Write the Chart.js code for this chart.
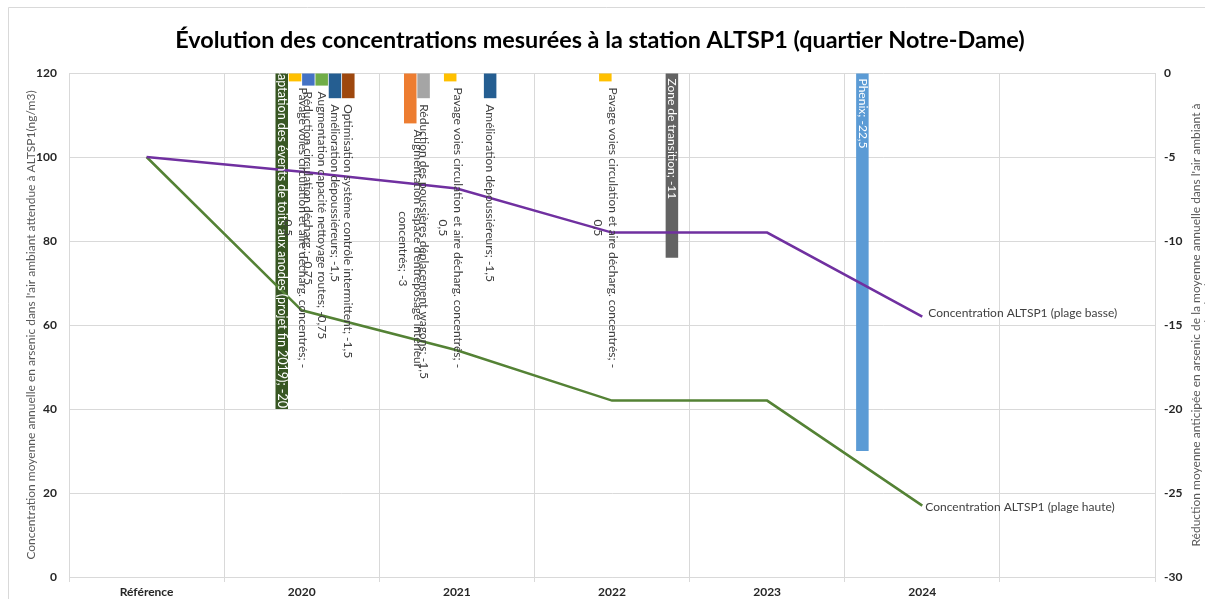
<!DOCTYPE html>
<html><head><meta charset="utf-8">
<script src="https://cdn.jsdelivr.net/npm/chart.js@4"></script>
<style>html,body{margin:0;padding:0;background:#fff}#wrap{width:1205px;height:599px;position:relative}</style>
</head><body><div id="wrap"><canvas id="c" width="1205" height="599"></canvas></div>
<script>
// ---------- DATA ----------
const categories = ['Référence', '2020', '2021', '2022', '2023', '2024', ''];
const concBasse = [100, 96.5, 92.5, 82, 82, 62, null];
const concHaute = [100, 63.5, 54, 42, 42, 17, null];
const leftTicks = [0, 20, 40, 60, 80, 100, 120];
const rightTicks = [0, -5, -10, -15, -20, -25, -30];

const phenix        = [null, null, null, null, null, -22.5, null];
const entreposage   = [null, null, -3, null, null, null, null];
const wagons        = [null, null, -1.5, null, null, null, null];
const captation     = [null, -20, null, null, null, null, null];
const pavage        = [null, -0.5, -0.5, -0.5, null, null, null];
const circulation   = [null, -0.75, null, null, null, null, null];
const nettoyage     = [null, -0.75, null, null, null, null, null];
const depoussieurs  = [null, -1.5, -1.5, null, null, null, null];
const optimisation  = [null, -1.5, null, null, null, null, null];
const transition    = [null, null, null, -11, null, null, null];

const seriesNames = [
  'Phenix',
  "Augmentation espace d'entreposage intérieur concentrés",
  'Réduction des poussières déplacement wagons',
  'Captation des évents de toits aux anodes (projet fin 2019)',
  'Pavage voies circulation et aire décharg. concentrés',
  'Réduction circulation décharg.',
  'Augmentation capacité nettoyage routes',
  'Amélioration dépoussiéreurs',
  'Optimisation système contrôle intermittent',
  'Zone de transition'
];
const seriesValues = [phenix, entreposage, wagons, captation, pavage, circulation, nettoyage, depoussieurs, optimisation, transition];
const lineNames = ['Concentration ALTSP1 (plage basse)', 'Concentration ALTSP1 (plage haute)'];
const titleText = 'Évolution des concentrations mesurées à la station ALTSP1 (quartier Notre-Dame)';
const leftTitle = "Concentration moyenne annuelle en arsenic dans l'air ambiant attendue à ALTSP1(ng/m3)";
const rightTitle = ["Réduction moyenne anticipée en arsenic de la moyenne annuelle dans l'air ambiant à", 'ALTSP1 (ng/m3)'];

// ---------- STYLE ----------
const seriesColors = ['#5B9BD5', '#ED7D31', '#A5A5A5', '#385723', '#FFC000', '#4472C4', '#70AD47', '#255E91', '#9E480E', '#636363'];
const labelMode = ['inBase', 'outEnd', 'outEnd', 'inEnd', 'outEnd', 'outEnd', 'outEnd', 'outEnd', 'outEnd', 'inBase'];
const wrapAfter = [null, 'intérieur ', null, null, 'concentrés; -', null, null, null, null, null];
const FONT = 'Lato, "Liberation Sans", sans-serif';

function fmt(v) { return String(v).replace('.', ','); }

const datasets = [];
datasets.push({ type: 'line', label: lineNames[0], data: concBasse, yAxisID: 'y', borderColor: '#7030A0', backgroundColor: '#7030A0', borderWidth: 2.5, pointRadius: 0, tension: 0, order: 0 });
datasets.push({ type: 'line', label: lineNames[1], data: concHaute, yAxisID: 'y', borderColor: '#548235', backgroundColor: '#548235', borderWidth: 2.5, pointRadius: 0, tension: 0, order: 0 });
seriesValues.forEach((vals, i) => {
  datasets.push({ type: 'bar', label: seriesNames[i], data: vals, yAxisID: 'y2', backgroundColor: seriesColors[i], borderWidth: 0, categoryPercentage: 0.858, barPercentage: 0.94, order: 1, _s: i });
});

const decor = {
  id: 'decor',
  beforeDraw(chart) {
    const ctx = chart.ctx;
    ctx.save();
    ctx.fillStyle = '#fff';
    ctx.fillRect(0, 0, chart.width, chart.height);
    ctx.strokeStyle = '#d9d9d9';
    ctx.lineWidth = 1;
    ctx.beginPath();
    ctx.moveTo(8.5, 599); ctx.lineTo(8.5, 7.5); ctx.lineTo(1205, 7.5);
    ctx.stroke();
    // title
    ctx.fillStyle = '#000';
    ctx.font = 'bold 23.4px ' + FONT;
    ctx.textAlign = 'center';
    ctx.textBaseline = 'middle';
    ctx.fillText(titleText, 600, 40);
    // axis titles
    const a = chart.chartArea;
    const cy = (a.top + a.bottom) / 2;
    ctx.fillStyle = '#595959';
    ctx.font = '12px ' + FONT;
    ctx.save();
    ctx.translate(31, cy);
    ctx.rotate(-Math.PI / 2);
    ctx.fillText(leftTitle, 0, 0);
    ctx.restore();
    ctx.save();
    ctx.translate(1196, cy);
    ctx.rotate(-Math.PI / 2);
    ctx.fillText(rightTitle[0], 0, 0);
    ctx.fillText(rightTitle[1], 0, 13);
    ctx.restore();
    ctx.restore();
  },
  afterDatasetsDraw(chart) {
    const ctx = chart.ctx;
    const a = chart.chartArea;
    ctx.save();
    ctx.beginPath();
    ctx.rect(a.left, a.top, a.right - a.left, a.bottom - a.top);
    ctx.clip();
    ctx.textBaseline = 'middle';
    ctx.textAlign = 'center';
    const lh = 15;
    chart.data.datasets.forEach((ds, di) => {
      if (ds.type !== 'bar') return;
      const s = ds._s;
      const meta = chart.getDatasetMeta(di);
      const mode = labelMode[s];
      ctx.font = (mode === 'inEnd' ? '12.5px ' : '12px ') + FONT;
      ds.data.forEach((v, j) => {
        if (v === null) return;
        const el = meta.data[j];
        const full = seriesNames[s] + '; ' + fmt(v);
        let lines = [full];
        if (wrapAfter[s]) {
          const k = full.indexOf(wrapAfter[s]);
          if (k >= 0) {
            const cut = k + wrapAfter[s].length;
            lines = [full.slice(0, cut).trim(), full.slice(cut).trim()];
          }
        }
        const maxW = Math.max(...lines.map(l => ctx.measureText(l).width));
        const base = el.base, end = el.y;
        let start;
        if (mode === 'outEnd') { start = end + 6; ctx.fillStyle = '#404040'; }
        else if (mode === 'inBase') { start = base + 5; ctx.fillStyle = '#ffffff'; }
        else { start = end - 1 - maxW; ctx.fillStyle = '#ffffff'; }
        ctx.save();
        ctx.translate(el.x, start + maxW / 2);
        ctx.rotate(Math.PI / 2);
        const n = lines.length;
        lines.forEach((l, k) => {
          ctx.fillText(l, 0, (k - (n - 1) / 2) * lh);
        });
        ctx.restore();
      });
    });
    ctx.restore();
    // line end labels
    ctx.save();
    ctx.font = '12px ' + FONT;
    ctx.fillStyle = '#404040';
    ctx.textAlign = 'left';
    ctx.textBaseline = 'middle';
    [0, 1].forEach((di) => {
      const meta = chart.getDatasetMeta(di);
      const data = chart.data.datasets[di].data;
      let last = 0;
      data.forEach((v, j) => { if (v !== null) last = j; });
      const p = meta.data[last];
      ctx.fillText(lineNames[di], p.x + (di === 0 ? 6 : 3), p.y + (di === 0 ? -3 : 2));
    });
    ctx.restore();
  }
};

new Chart(document.getElementById('c'), {
  data: { labels: categories, datasets },
  options: {
    responsive: false,
    animation: false,
    devicePixelRatio: 1,
    layout: { padding: { top: 73, left: 0, right: 0, bottom: 0 } },
    plugins: { legend: { display: false }, tooltip: { enabled: false }, title: { display: false } },
    scales: {
      x: {
        offset: true,
        grid: { color: '#d9d9d9', offset: true, tickLength: 5, drawTicks: true, tickColor: '#d9d9d9' },
        border: { color: '#d9d9d9' },
        ticks: { color: '#262626', font: { family: FONT, size: 12, weight: 'bold' }, padding: 3, maxRotation: 0, autoSkip: false },
        afterFit(s) { s.height = 22; }
      },
      y: {
        position: 'left',
        min: 0, max: 120,
        afterBuildTicks(s) { s.ticks = leftTicks.map(v => ({ value: v })); },
        grid: { color: '#d9d9d9', drawTicks: false },
        border: { color: '#d9d9d9' },
        ticks: { color: '#262626', font: { family: FONT, size: 12, weight: 'bold' }, padding: 12 },
        afterFit(s) { s.width = 69; }
      },
      y2: {
        position: 'right',
        min: -30, max: 0,
        afterBuildTicks(s) { s.ticks = rightTicks.map(v => ({ value: v })); },
        grid: { drawOnChartArea: false, drawTicks: false },
        border: { display: false },
        ticks: { color: '#262626', font: { family: FONT, size: 12, weight: 'bold' }, padding: 9 },
        afterFit(s) { s.width = 50; }
      }
    }
  },
  plugins: [decor]
});
</script>
</body></html>
